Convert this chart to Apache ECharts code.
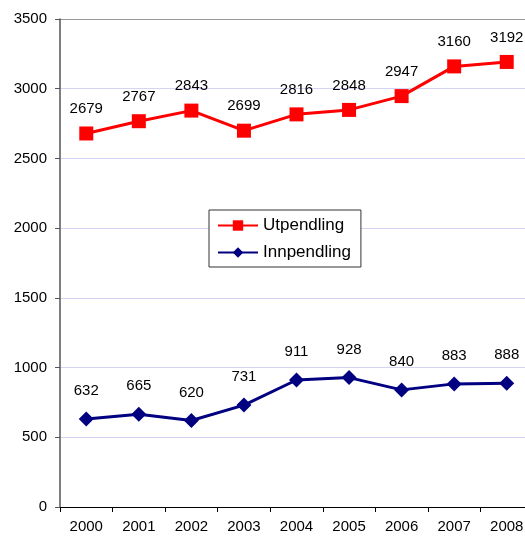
<!DOCTYPE html>
<html>
<head>
<meta charset="utf-8">
<script src="https://cdn.jsdelivr.net/npm/echarts@6/dist/echarts.min.js"></script>
<style>
  html, body { margin: 0; padding: 0; background: #fff; }
  #chart { width: 525px; height: 536px; }
</style>
</head>
<body>
<div id="chart"></div>
<script>
var years = ['2000', '2001', '2002', '2003', '2004', '2005', '2006', '2007', '2008']
var utpendling = [2679, 2767, 2843, 2699, 2816, 2848, 2947, 3160, 3192]
var innpendling = [632, 665, 620, 731, 911, 928, 840, 883, 888]

var chart = echarts.init(document.getElementById('chart'))
var font = 'Arial, "Liberation Sans", sans-serif'

chart.setOption({
  animation: false,
  grid: {
    left: 60,
    top: 19,
    width: 473,
    height: 488,
    outerBoundsMode: 'none',
    containLabel: false
  },
  legend: {
    orient: 'vertical',
    left: 209,
    top: 210,
    itemWidth: 40,
    itemHeight: 13,
    itemGap: 10,
    padding: [7, 10, 6, 8],
    borderColor: '#333',
    borderWidth: 1,
    backgroundColor: '#fff',
    textStyle: { fontFamily: font, fontSize: 17, color: '#000' },
    data: ['Utpendling', 'Innpendling']
  },
  xAxis: {
    type: 'category',
    data: years,
    axisLine: { lineStyle: { color: '#000', width: 1 } },
    axisTick: { show: true, length: 5, lineStyle: { color: '#000' } },
    axisLabel: { color: '#000', fontFamily: font, fontSize: 15, margin: 12 }
  },
  yAxis: {
    type: 'value',
    min: 0,
    max: 3500,
    interval: 500,
    axisLine: { show: true, lineStyle: { color: '#555', width: 1.5 } },
    axisTick: { show: true, length: 5, lineStyle: { color: '#555' } },
    axisLabel: {
      color: '#000',
      fontFamily: font,
      fontSize: 15,
      margin: 13,
      formatter: function (v) { return String(v) }
    },
    splitLine: {
      lineStyle: {
        color: ['#d4d4f6', '#d4d4f6', '#d4d4f6', '#d4d4f6', '#d4d4f6', '#d4d4f6', '#d4d4f6', '#999'],
        width: 1
      }
    }
  },
  series: [{
    name: 'Utpendling',
    type: 'line',
    data: utpendling,
    symbol: 'rect',
    symbolSize: 14,
    itemStyle: { color: '#ff0000' },
    lineStyle: { color: '#ff0000', width: 3 },
    label: {
      show: true,
      position: 'top',
      distance: 10,
      color: '#000',
      fontFamily: font,
      fontSize: 15
    }
  }, {
    name: 'Innpendling',
    type: 'line',
    data: innpendling,
    symbol: 'diamond',
    symbolSize: 15,
    itemStyle: { color: '#000080' },
    lineStyle: { color: '#000080', width: 3 },
    label: {
      show: true,
      position: 'top',
      distance: 13,
      color: '#000',
      fontFamily: font,
      fontSize: 15
    }
  }]
})
</script>
</body>
</html>
